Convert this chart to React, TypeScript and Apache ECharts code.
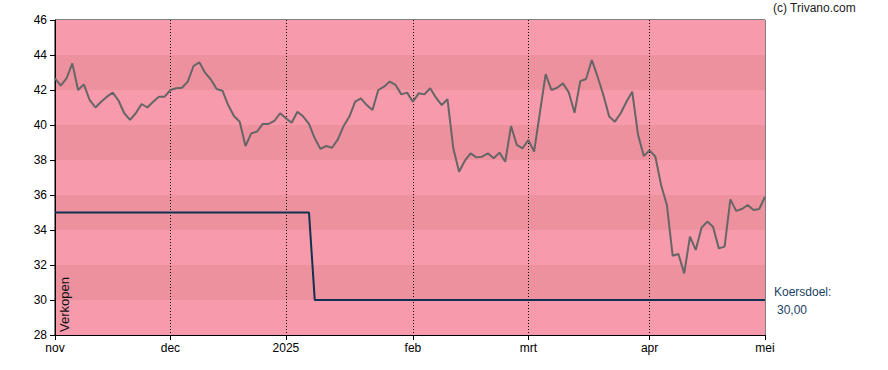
import React, { useEffect, useRef } from "react";
import * as echarts from "echarts";

const monthLabels = ["nov", "dec", "2025", "feb", "mrt", "apr", "mei"];
const monthIdx = [0, 20, 40, 62, 82, 103, 123];

const price = [
  42.67, 42.25, 42.67, 43.52, 42.0, 42.32, 41.43, 41.0, 41.33, 41.62,
  41.85, 41.4, 40.67, 40.29, 40.67, 41.2, 41.0, 41.33, 41.62, 41.62,
  42.0, 42.1, 42.13, 42.48, 43.37, 43.58, 42.99, 42.6, 42.06, 41.96,
  41.14, 40.51, 40.19, 38.8, 39.52, 39.62, 40.06, 40.06, 40.23, 40.67,
  40.38, 40.13, 40.76, 40.48, 40.06, 39.24, 38.63, 38.8, 38.7, 39.18,
  39.94, 40.48, 41.33, 41.52, 41.14, 40.86, 42.0, 42.19, 42.48, 42.29,
  41.75, 41.85, 41.33, 41.81, 41.75, 42.1, 41.56, 41.14, 41.47, 38.67,
  37.33, 37.96, 38.38, 38.15, 38.19, 38.38, 38.1, 38.42, 37.9, 39.94,
  38.86, 38.67, 39.14, 38.48, 40.7, 42.91, 42.0, 42.13, 42.38, 41.87,
  40.7, 42.51, 42.63, 43.71, 42.76, 41.71, 40.48, 40.19, 40.67, 41.33,
  41.9, 39.45, 38.23, 38.55, 38.2, 36.57, 35.43, 32.53, 32.63, 31.52,
  33.62, 32.86, 34.13, 34.48, 34.19, 32.95, 33.05, 35.75, 35.09, 35.2,
  35.43, 35.14, 35.2, 35.9,
];

const targetBefore = 35;
const targetAfter = 30;
const targetChangeIdx = 45;

const yTicks = [28, 30, 32, 34, 36, 38, 40, 42, 44, 46];

export default function App() {
  const ref = useRef<HTMLDivElement>(null);

  useEffect(() => {
    if (!ref.current) return;
    const chart = echarts.init(ref.current, null, { renderer: "svg" });
    const cats = price.map((_, i) => String(i));
    const target = price.map((_, i) => (i < targetChangeIdx ? targetBefore : targetAfter));
    const labelMap: Record<number, string> = {};
    monthIdx.forEach((idx, k) => (labelMap[idx] = monthLabels[k]));
    const innerIdx = monthIdx.slice(1, -1);
    const font = "'Liberation Sans', Arial, sans-serif";

    chart.setOption({
      animation: false,
      backgroundColor: "#ffffff",
      grid: {
        left: 55,
        right: 123,
        top: 20,
        bottom: 35,
        show: true,
        borderColor: "#000",
        borderWidth: 1,
        backgroundColor: "transparent",
      },
      xAxis: {
        type: "category",
        data: cats,
        boundaryGap: false,
        axisLine: { show: true, lineStyle: { color: "#000", width: 1 } },
        axisTick: {
          show: true,
          length: 5,
          lineStyle: { color: "#000" },
          interval: (i: number) => labelMap[i] !== undefined,
        },
        axisLabel: {
          show: true,
          interval: (i: number) => labelMap[i] !== undefined,
          formatter: (_v: string, i: number) => labelMap[i] ?? "",
          color: "#000",
          fontSize: 12,
          fontFamily: font,
          margin: 7,
          showMinLabel: true,
          showMaxLabel: true,
        },
        splitLine: {
          show: true,
          interval: (i: number) => innerIdx.includes(i),
          lineStyle: { color: "#000", type: [1, 2], width: 1 },
        },
      },
      yAxis: {
        type: "value",
        min: 28,
        max: 46,
        interval: 2,
        axisLine: { show: true, lineStyle: { color: "#000", width: 1 } },
        axisTick: { show: true, length: 5, lineStyle: { color: "#000" } },
        axisLabel: {
          color: "#000",
          fontSize: 12,
          fontFamily: font,
          margin: 8,
          formatter: (v: number) => (yTicks.includes(v) ? String(v) : ""),
        },
        splitLine: { show: false },
        splitArea: {
          show: true,
          areaStyle: { color: ["#F79AAB", "#EE919F"] },
        },
      },
      series: [
        {
          type: "line",
          data: target,
          symbol: "none",
          lineStyle: { color: "#0f3152", width: 2 },
          z: 3,
        },
        {
          type: "line",
          data: price,
          symbol: "none",
          lineStyle: { color: "#666666", width: 2 },
          z: 4,
        },
      ],
      graphic: [
        {
          type: "text",
          x: 773,
          y: 8,
          style: {
            text: "(c) Trivano.com",
            fill: "#222",
            fontSize: 12,
            fontFamily: font,
            textAlign: "left",
            textVerticalAlign: "middle",
          },
        },
        {
          type: "text",
          x: 774,
          y: 292,
          style: {
            text: "Koersdoel:",
            fill: "#1c3f66",
            fontSize: 12,
            fontFamily: font,
            textAlign: "left",
            textVerticalAlign: "middle",
          },
        },
        {
          type: "text",
          x: 777,
          y: 310,
          style: {
            text: "30,00",
            fill: "#1c3f66",
            fontSize: 12,
            fontFamily: font,
            textAlign: "left",
            textVerticalAlign: "middle",
          },
        },
        {
          type: "text",
          x: 64,
          y: 332,
          rotation: Math.PI / 2,
          style: {
            text: "Verkopen",
            fill: "#111",
            fontSize: 13,
            fontFamily: font,
            textAlign: "left",
            textVerticalAlign: "middle",
          },
          z: 10,
        },
      ],
    });
    return () => chart.dispose();
  }, []);

  return (
    <div
      ref={ref}
      style={{ position: "absolute", left: 0, top: 0, width: 888, height: 370 }}
    />
  );
}
